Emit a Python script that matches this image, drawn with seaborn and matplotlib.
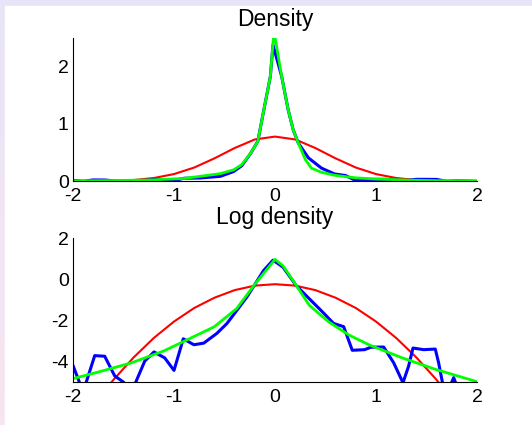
import numpy as np
import pandas as pd
import matplotlib
matplotlib.use("Agg")
import matplotlib.pyplot as plt
import seaborn as sns

sns.set_style("white")
plt.rcParams["font.family"] = ["Liberation Sans", "DejaVu Sans"]
plt.rcParams["axes.unicode_minus"] = False

# --- data ---
# top panel: density
blue_x = [-2.0, -1.9, -1.8, -1.68, -1.55, -1.4, -1.2, -1.0, -0.9, -0.74, -0.54, -0.41, -0.33,
          -0.24, -0.17, -0.11, -0.046, -0.02, 0.066, 0.13, 0.18, 0.23, 0.33, 0.46, 0.59, 0.7,
          0.78, 0.95, 1.1, 1.27, 1.4, 1.6, 1.7, 1.8, 2.0]
blue_y = [0.015, 0.0, 0.024, 0.022, 0.0, 0.0, 0.028, 0.012, 0.053, 0.058, 0.087, 0.17, 0.27,
          0.49, 0.7, 1.25, 1.83, 2.38, 1.83, 1.25, 0.9, 0.67, 0.41, 0.23, 0.128, 0.1,
          0.03, 0.032, 0.035, 0.007, 0.035, 0.033, 0.0, 0.009, 0.0]

green_x = [-2.0, -1.6, -1.2, -0.9, -0.74, -0.54, -0.41, -0.33, -0.24, -0.17, -0.11, -0.046,
           -0.01, 0.066, 0.13, 0.18, 0.23, 0.30, 0.36, 0.46, 0.59, 0.8, 1.0, 1.3, 1.6, 2.0]
green_y = [0.008, 0.013, 0.025, 0.05, 0.087, 0.134, 0.2, 0.29, 0.49, 0.7, 1.25, 1.83,
           2.62, 1.83, 1.25, 0.9, 0.67, 0.38, 0.23, 0.157, 0.105, 0.06, 0.04, 0.022, 0.012, 0.007]

red_x = [-2.0, -1.8, -1.6, -1.4, -1.2, -1.0, -0.8, -0.6, -0.4, -0.2, 0.0,
         0.2, 0.4, 0.6, 0.8, 1.0, 1.2, 1.4, 1.6, 1.8, 2.0]
red_y = [0.0005, 0.002, 0.0074, 0.022, 0.057, 0.126, 0.24, 0.40, 0.58, 0.73, 0.78,
         0.73, 0.58, 0.40, 0.24, 0.126, 0.057, 0.022, 0.0074, 0.002, 0.0005]

# bottom panel: log density
blue_log_x = [-2.0, -1.9, -1.785, -1.686, -1.587, -1.5, -1.42, -1.29, -1.198, -1.092, -1.0,
              -0.908, -0.803, -0.705, -0.574, -0.475, -0.377, -0.279, -0.207, -0.115, -0.02,
              0.08, 0.21, 0.34, 0.47, 0.58, 0.68, 0.765, 0.887, 0.95, 1.076, 1.175, 1.267,
              1.323, 1.366, 1.472, 1.587, 1.62, 1.68, 1.70, 1.769, 1.83, 2.0]
blue_log_y = [-4.21, -5.5, -3.73, -3.76, -4.72, -5.02, -5.5, -4.0, -3.55, -3.84, -4.45,
              -2.91, -3.2, -3.12, -2.64, -2.16, -1.52, -0.88, -0.32, 0.4, 0.92,
              0.58, -0.32, -0.96, -1.6, -2.16, -2.32, -3.47, -3.44, -3.32, -3.31, -4.08, -5.05,
              -4.24, -3.36, -3.44, -3.41, -4.08, -5.6, -5.6, -4.8, -5.6, -6.0]

green_log_x = [-2.0, -1.75, -1.42, -1.1, -0.87, -0.6, -0.38, -0.21, 0.0, 0.08, 0.19, 0.34,
               0.53, 0.73, 0.93, 1.26, 1.59, 2.0]
green_log_y = [-4.85, -4.53, -4.08, -3.5, -2.96, -2.32, -1.44, -0.32, 0.96, 0.64, -0.16, -1.28,
               -2.08, -2.72, -3.2, -3.84, -4.4, -5.0]

red_log_x = red_x
red_log_y = [-7.53, -6.15, -4.91, -3.82, -2.87, -2.07, -1.41, -0.91, -0.54, -0.32, -0.25,
             -0.32, -0.54, -0.91, -1.41, -2.07, -2.87, -3.82, -4.91, -6.15, -7.53]

x_ticks = [-2, -1, 0, 1, 2]

fig = plt.figure(figsize=(5.32, 4.25), dpi=100)

# window-style background: lavender/pink frame around a white panel
bg = fig.add_axes([0, 0, 1, 1], zorder=-10)
grad = np.linspace(0, 1, 100)[:, None]
top_c = np.array([232, 228, 247]) / 255
bot_c = np.array([247, 230, 240]) / 255
img = top_c[None, None, :] * (1 - grad[:, :, None]) + bot_c[None, None, :] * grad[:, :, None]
bg.imshow(img, aspect="auto", extent=[0, 1, 0, 1])
bg.add_patch(plt.Rectangle((5 / 532, 0), 1, 419 / 425, color="white"))
bg.set_xlim(0, 1)
bg.set_ylim(0, 1)
bg.axis("off")

ax1 = fig.add_axes([73 / 532, (425 - 181.3) / 425, 404 / 532, 143.3 / 425])
ax2 = fig.add_axes([73 / 532, (425 - 381.7) / 425, 404 / 532, 143.7 / 425])

panels = [
    (ax1, "Density", 8.5, (red_x, red_y), (blue_x, blue_y), (green_x, green_y), (0, 2.5), [0, 1, 2]),
    (ax2, "Log density", 10, (red_log_x, red_log_y), (blue_log_x, blue_log_y),
     (green_log_x, green_log_y), (-5, 2), [-4, -2, 0, 2]),
]

for ax, title, tpad, red, blue, green, ylim, yticks in panels:
    for (xs, ys), col, lw in [(red, "#ff0000", 1.5), (blue, "#0000ff", 2.2), (green, "#00ff00", 2.0)]:
        df = pd.DataFrame({"x": xs, "y": ys})
        sns.lineplot(data=df, x="x", y="y", ax=ax, color=col, lw=lw,
                     sort=False, estimator=None)
    ax.set(xlim=(-2, 2), ylim=ylim, xticks=x_ticks, yticks=yticks, xlabel="", ylabel="")
    ax.patch.set_alpha(0)
    ax.set_title(title, fontsize=16.5, pad=tpad, color="black")
    sns.despine(ax=ax)
    for s in ["left", "bottom"]:
        ax.spines[s].set_color("black")
        ax.spines[s].set_linewidth(0.8)
    ax.tick_params(direction="in", length=3, width=0.8, labelsize=14, colors="black")
    ax.tick_params(axis="x", pad=5)
    ax.tick_params(axis="y", pad=3)

fig.savefig("out.png", dpi=100)
